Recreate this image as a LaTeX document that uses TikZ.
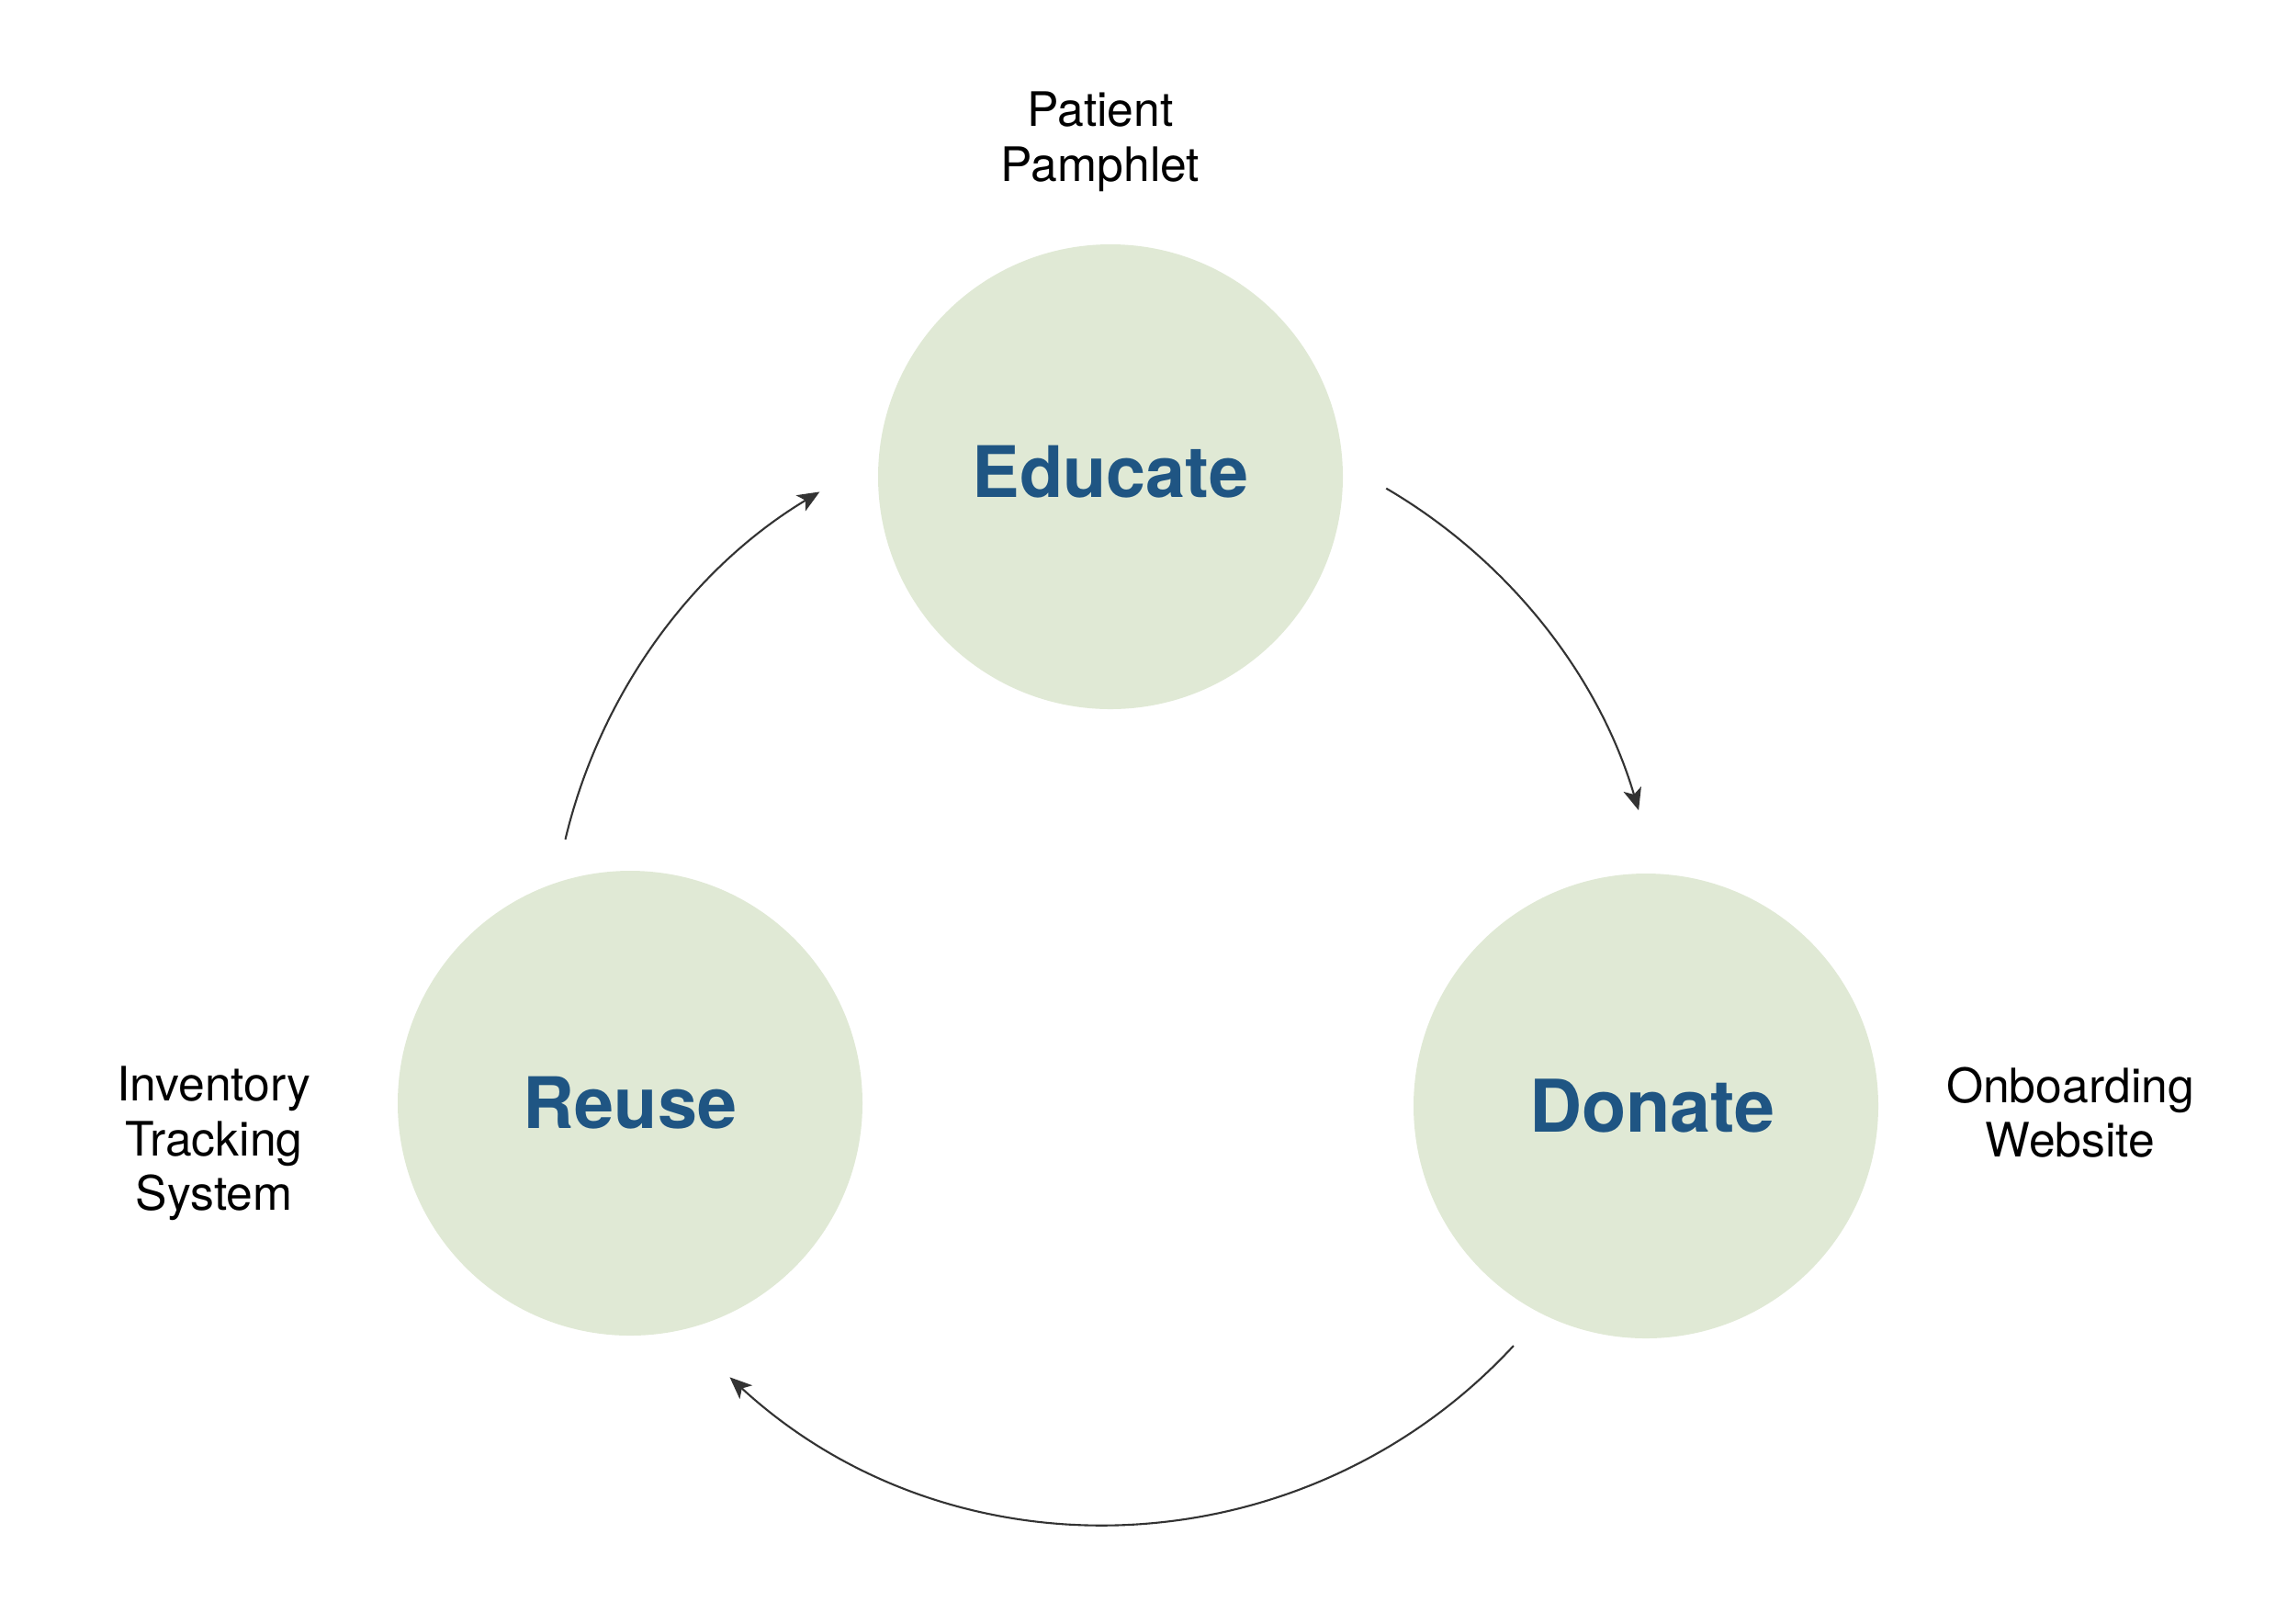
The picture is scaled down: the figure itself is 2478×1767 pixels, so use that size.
\documentclass[tikz,border=0pt]{standalone}
\usepackage{fontspec}
\setmainfont{TeX Gyre Heros}
\usetikzlibrary{arrows.meta,calc}
\definecolor{circfill}{HTML}{E0E9D5}
\definecolor{titleblue}{HTML}{1F5583}
\definecolor{arrowgray}{HTML}{333333}
\tikzset{
  stage/.style={circle, fill=circfill, draw=none, minimum size=50.6mm, inner sep=0pt,
    text=titleblue, font=\fontsize{22}{26}\selectfont\bfseries},
  tool/.style={align=center, text=black, inner sep=0pt, font=\fontsize{14.7}{17}\selectfont},
  flow/.style={draw=arrowgray, line width=0.6pt, -{Stealth[length=2.4mm,width=2.0mm,inset=0.6mm]}}
}
\begin{document}
\begin{tikzpicture}[x=0.1mm, y=-0.1mm]
\useasboundingbox (0,0) rectangle (2478,1767);
\node[stage] (educate) at (1209,519) {\raisebox{0.55mm}[\height][\depth]{Educate}};
\node[stage] (reuse) at (686,1201) {Reuse};
\node[stage] (donate) at (1792,1204) {\hspace*{1.4mm}\fontsize{22.5}{26}\selectfont Donate};
\node[tool] (pamphlet) at (1198,154) {Patient\\Pamphlet};
\node[tool] (inventory) at (233,1245) {Inventory\\Tracking\\System};
\node[tool] (website) at (2254,1211) {Onboarding\\Website};
\coordinate (cyc) at (1204,1054);
\coordinate (a1s) at ($(cyc)+(166.6:60.5mm)$);
\coordinate (a2s) at ($(cyc)+(59.7:60.5mm)$);
\coordinate (a3s) at ($(cyc)+(-42.8:60.5mm)$);
\draw[flow] (a1s) arc[start angle=166.6, end angle=121.0, radius=60.5mm];
\draw[flow] (a2s) arc[start angle=59.7, end angle=16.5, radius=60.5mm];
\draw[flow] (a3s) arc[start angle=-42.8, end angle=-132.6, radius=60.5mm];
\end{tikzpicture}
\end{document}
